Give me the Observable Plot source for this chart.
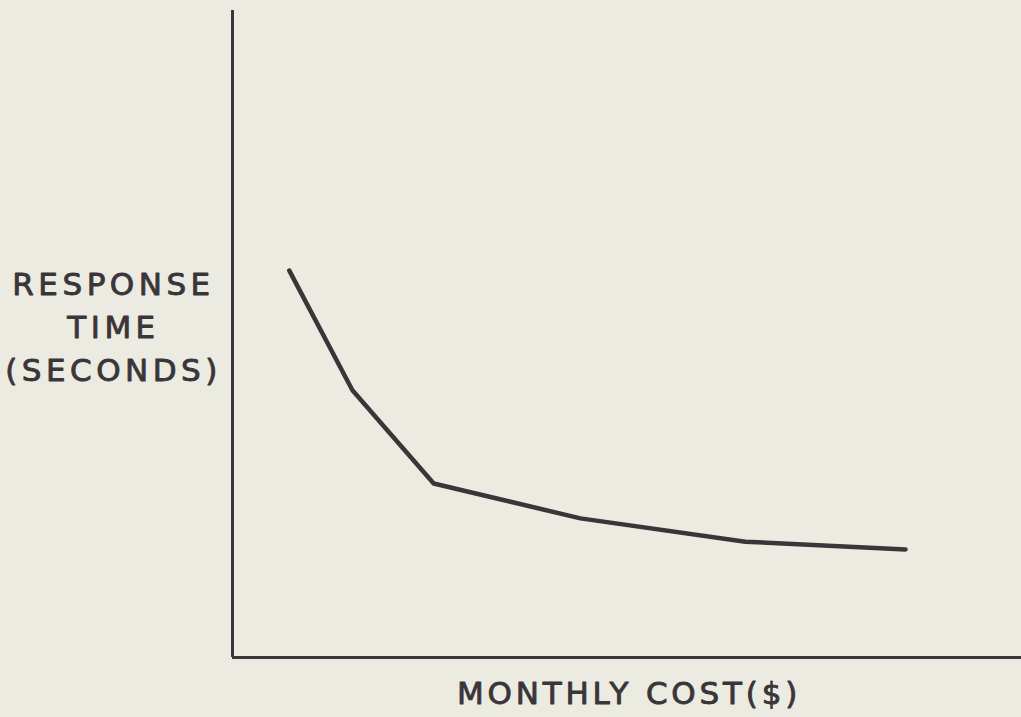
<!DOCTYPE html>
<html>
<head>
<meta charset="utf-8">
<script src="https://cdn.jsdelivr.net/npm/d3@7"></script>
<script src="https://cdn.jsdelivr.net/npm/@observablehq/plot@0.6"></script>
<style>
  html, body { margin: 0; padding: 0; background: #ecebe2; overflow: hidden; }
  #chart svg { display: block; }
</style>
</head>
<body>
<div id="chart"></div>
<script>
// Relative monthly cost (x) and response time (y), no numeric ticks in the original
const cost = [7.2, 15.2, 25.5, 44.1, 65.0, 85.3];
const responseTime = [59.8, 41.3, 26.9, 21.5, 17.9, 16.7];
const yLabel = "RESPONSE\nTIME\n(SECONDS)";
const xLabel = "MONTHLY COST($)";

const data = cost.map((c, i) => ({cost: c, time: responseTime[i]}));
const ink = "#3a3538";

const chart = Plot.plot({
  width: 1021,
  height: 717,
  marginLeft: 232,
  marginRight: 0,
  marginTop: 10,
  marginBottom: 60,
  style: {background: "#ecebe2", fontFamily: "DejaVu Sans"},
  x: {domain: [0, 100], axis: null},
  y: {domain: [0, 100], axis: null},
  marks: [
    Plot.ruleX([0], {stroke: ink, strokeWidth: 3}),
    Plot.ruleY([0], {stroke: ink, strokeWidth: 3}),
    Plot.line(data, {x: "cost", y: "time", stroke: ink, strokeWidth: 4.5, strokeLinecap: "round", strokeLinejoin: "round"}),
    Plot.text([yLabel], {frameAnchor: "left", dx: -119, dy: -10, text: d => d, textAnchor: "middle", lineHeight: 1.39, fontSize: 31, fill: ink, stroke: ink, strokeWidth: 0.9}),
    Plot.text([xLabel], {frameAnchor: "bottom", dx: 2, dy: 46, text: d => d, textAnchor: "middle", fontSize: 31, fill: ink, stroke: ink, strokeWidth: 0.9})
  ]
});
chart.querySelectorAll("text").forEach((t, i) => t.setAttribute("letter-spacing", t.textContent.startsWith("MONTHLY") ? "3.8" : "4.5"));
document.getElementById("chart").appendChild(chart);
</script>
</body>
</html>
